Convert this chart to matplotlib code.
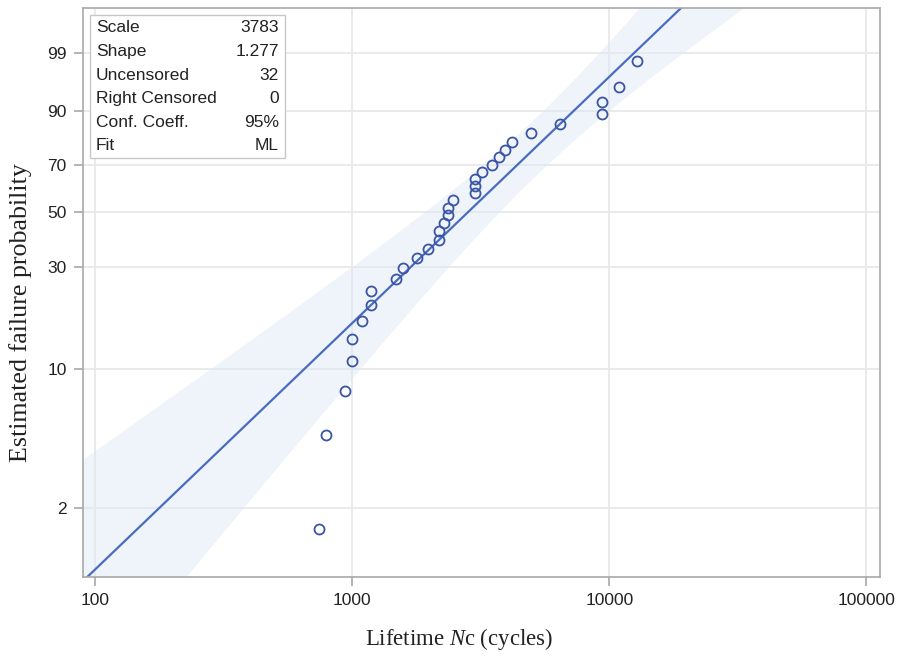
import numpy as np
import matplotlib
matplotlib.use('Agg')
import matplotlib.pyplot as plt

plt.rcParams['font.family'] = ['Liberation Sans', 'DejaVu Sans']
plt.rcParams['mathtext.fontset'] = 'custom'
plt.rcParams['mathtext.rm'] = 'Liberation Serif'
plt.rcParams['mathtext.it'] = 'Liberation Serif:italic'

# Weibull fit shown in the inset
scale = 3783
shape = 1.277
n_obs = 32

# observed lifetimes (cycles) and their plotted failure probabilities (%)
lifetimes = [745, 790, 940, 1000, 1000, 1090, 1180, 1180, 1480, 1580, 1780,
             1970, 2170, 2170, 2280, 2370, 2370, 2470, 3000, 3000, 3000, 3200,
             3500, 3740, 3940, 4180, 4950, 6450, 9400, 9400, 10900, 12800]
probs = [1.56, 4.69, 7.81, 10.94, 14.06, 17.19, 20.31, 23.44, 26.56, 29.69,
         32.81, 35.94, 39.06, 42.19, 45.31, 48.44, 51.56, 54.69, 57.81, 60.94,
         64.06, 67.19, 70.31, 73.44, 76.56, 79.69, 82.81, 85.94, 89.06, 92.19,
         95.31, 98.44]

yticks = [2, 10, 30, 50, 70, 90, 99]
xticks = [100, 1000, 10000, 100000]

info_names = ['Scale', 'Shape', 'Uncensored', 'Right Censored', 'Conf. Coeff.', 'Fit']
info_vals = ['3783', '1.277', '32', '0', '95%', 'ML']


def fwd(p):
    p = np.clip(np.asarray(p, dtype=float), 1e-9, 100 - 1e-9)
    return np.log(-np.log(1 - p / 100.0))


def inv(w):
    w = np.clip(np.asarray(w, dtype=float), -30, 3.5)
    return 100.0 * (1 - np.exp(-np.exp(w)))


# fitted line and 95% band (asymptotic ML covariance of the Weibull fit)
xs = np.logspace(np.log10(80), np.log10(130000), 400)
w_fit = shape * (np.log(xs) - np.log(scale))
var_w = (0.6079 * w_fit ** 2 + 1.1087 - 0.5140 * w_fit) / n_obs
half = 1.96 * np.sqrt(var_w)
p_fit = inv(w_fit)
p_lo = inv(w_fit - half)
p_hi = inv(w_fit + half)

fig = plt.figure(figsize=(9, 6.57), dpi=100)
ax = fig.add_axes([0.0918, 0.122, 0.886, 0.866])
ax.set_xscale('log')
ax.set_yscale('function', functions=(fwd, inv))

ax.fill_between(xs, p_lo, p_hi, color='#dce8f6', alpha=0.45, lw=0, zorder=1)
ax.plot(xs, p_fit, color='#4a6cc0', lw=1.6, zorder=2)
ax.plot(lifetimes, probs, 'o', ms=7.2, mfc='none', mec='#3a55a4', mew=1.3, zorder=3)

ax.set_xlim(89.5, 113000)
ax.set_ylim(0.882, 99.962)
ax.set_xticks(xticks)
ax.set_xticklabels([str(v) for v in xticks])
ax.xaxis.set_minor_locator(matplotlib.ticker.NullLocator())
ax.set_yticks(yticks)
ax.set_yticklabels([str(v) for v in yticks])
ax.yaxis.set_minor_locator(matplotlib.ticker.NullLocator())

ax.grid(True, color='#e8e8e8', lw=1.3, zorder=0)
ax.set_axisbelow(True)
for sp in ax.spines.values():
    sp.set_color('#a8a8a8')
    sp.set_linewidth(1.2)
ax.tick_params(axis='both', direction='out', length=6.5, width=1.1,
               color='#a0a0a0', labelsize=12.5, labelcolor='#222222', pad=5)

ax.set_xlabel('Lifetime $\\mathit{N}$c (cycles)', family='Liberation Serif',
              fontsize=16.4, color='#222222')
ax.xaxis.set_label_coords(0.472, -0.087)
ax.set_ylabel('Estimated failure probability', family='Liberation Serif',
              fontsize=18.7, color='#222222')
ax.yaxis.set_label_coords(-0.0635, 0.464)

# inset table
box = matplotlib.patches.Rectangle((90, 657 - 158), 195, 143, transform=None,
                                   fill=True, fc='white', ec='#c8c8c8', lw=1.0, zorder=4)
fig.patches.append(box)
for i, (nm, vl) in enumerate(zip(info_names, info_vals)):
    y = 657 - (28 + i * 23.6)
    fig.text(96 / 900, y / 657, nm, ha='left', va='center', fontsize=12.5,
             color='#222222', zorder=5)
    fig.text(279 / 900, y / 657, vl, ha='right', va='center', fontsize=12.5,
             color='#222222', zorder=5)

fig.savefig('out.png', dpi=100)
